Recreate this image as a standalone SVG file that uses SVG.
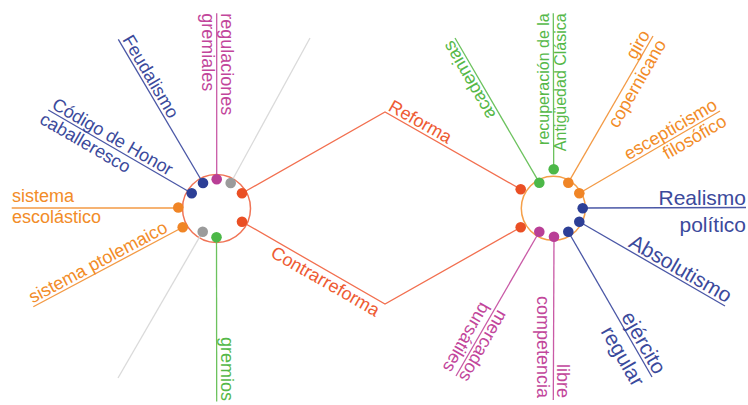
<svg xmlns="http://www.w3.org/2000/svg" width="748" height="405" viewBox="0 0 748 405">
<style>
.t{font-family:"Liberation Sans",Arial,sans-serif;font-size:18px}
.big{font-size:21px}
.sm{font-size:16px}
.e{text-anchor:end}
.cb{fill:#3b4a9c}.cm{fill:#c2469b}.cg{fill:#55b848}.co{fill:#f28c28}.cr{fill:#ee5b33}
.lb{stroke:#4a57a6}.lm{stroke:#c95aa6}.lg{stroke:#6cc25e}.lo{stroke:#f39a45}.lr{stroke:#f26f4f}.lgr{stroke:#dadada;stroke-width:0.8}
#connectors line,#connectors polyline{fill:none;stroke-width:1.3}
.db{fill:#2d3f96}.dm{fill:#b93f96}.dg{fill:#4cb848}.do{fill:#f08526}.dr{fill:#ea4f24}.dgr{fill:#9b9b9b}
</style>
<rect width="748" height="405" fill="#ffffff"/>
<g id="hub-left">
<circle cx="216.5" cy="208.5" r="34" fill="#ffffff" stroke="#f07456" stroke-width="1.5"/>
</g>
<g id="hub-right">
<circle cx="553.3" cy="208.3" r="32" fill="#ffffff" stroke="#f5a04a" stroke-width="1.5"/>
</g>
<g id="connectors">
<line class="lb" x1="203" y1="183" x2="118.3" y2="39.3"/>
<line class="lb" x1="191.7" y1="193.3" x2="48.3" y2="110"/>
<line class="lm" x1="216.7" y1="179.3" x2="216.7" y2="13.3"/>
<line class="lgr" x1="230.7" y1="183" x2="310" y2="38"/>
<polyline class="lr" points="242,193.3 385,112 520.7,189.3"/>
<polyline class="lr" points="242,221.7 385,304 520.7,227.3"/>
<line class="lg" x1="216.5" y1="237.3" x2="216.7" y2="401.5"/>
<line class="lgr" x1="202.7" y1="231.7" x2="118" y2="378"/>
<line class="lo" x1="182.7" y1="227.3" x2="33.3" y2="306.7"/>
<line class="lo" x1="178.3" y1="208" x2="11.7" y2="208"/>
<line class="lg" x1="539.3" y1="182.7" x2="455" y2="38"/>
<line class="lg" x1="553.7" y1="169.3" x2="553.3" y2="13.3"/>
<line class="lo" x1="568.3" y1="182.7" x2="653" y2="36"/>
<line class="lo" x1="579.3" y1="193.3" x2="720" y2="111"/>
<line class="lb" x1="582.7" y1="208" x2="746" y2="207.5"/>
<line class="lb" x1="579.3" y1="221.7" x2="725" y2="306"/>
<line class="lb" x1="568.3" y1="231.7" x2="652" y2="377"/>
<line class="lm" x1="554" y1="236.7" x2="553.3" y2="400"/>
<line class="lm" x1="539.3" y1="231.7" x2="456" y2="376"/>
</g>
<g id="dots-left">
<circle class="db" cx="203" cy="183" r="5.3"/>
<circle class="dm" cx="216.7" cy="179.3" r="5.3"/>
<circle class="dgr" cx="230.7" cy="183" r="5.3"/>
<circle class="dr" cx="242" cy="193.3" r="5.3"/>
<circle class="db" cx="191.7" cy="193.3" r="5.3"/>
<circle class="do" cx="178.3" cy="207.5" r="5.3"/>
<circle class="do" cx="182.7" cy="227.3" r="5.3"/>
<circle class="dgr" cx="202.7" cy="231.7" r="5.3"/>
<circle class="dg" cx="216.5" cy="237.3" r="5.3"/>
<circle class="dr" cx="242" cy="221.7" r="5.3"/>
</g>
<g id="dots-right">
<circle class="dr" cx="520.7" cy="189.3" r="5.3"/>
<circle class="dg" cx="539.3" cy="182.7" r="5.3"/>
<circle class="dg" cx="553.7" cy="169.3" r="5.3"/>
<circle class="do" cx="568.3" cy="182.7" r="5.3"/>
<circle class="do" cx="579.3" cy="193.3" r="5.3"/>
<circle class="db" cx="582.7" cy="208.3" r="5.3"/>
<circle class="db" cx="579.3" cy="221.7" r="5.3"/>
<circle class="db" cx="568.3" cy="231.7" r="5.3"/>
<circle class="dm" cx="554" cy="236.7" r="5.3"/>
<circle class="dm" cx="539.3" cy="231.7" r="5.3"/>
<circle class="dr" cx="520.7" cy="227.3" r="5.3"/>
</g>
<g id="feudalismo" transform="translate(118.3,39.3) rotate(59.5)"><text class="t cb" x="2" y="-3">Feudalismo</text></g>
<g id="codigo" transform="translate(48.3,110) rotate(30)"><text class="t cb" x="1" y="-3">Código de Honor</text><text class="t cb" x="-2" y="16">caballeresco</text></g>
<g id="regulaciones" transform="translate(216.7,13.3) rotate(90)"><text class="t cm" x="0" y="-4">regulaciones</text><text class="t cm" x="0" y="15">gremiales</text></g>
<g id="escolastico" transform="translate(12,208)"><text class="t co" x="0" y="-6">sistema</text><text class="t co" x="0" y="15">escolástico</text></g>
<g id="ptolemaico" transform="translate(33.3,306.7) rotate(-28)"><text class="t co" x="1" y="-3">sistema ptolemaico</text></g>
<g id="gremios" transform="translate(216.7,401) rotate(90)"><text class="t cg e" x="0" y="-4">gremios</text></g>
<g id="reforma" transform="translate(385,112) rotate(29.5)"><text class="t cr" x="1" y="-3">Reforma</text></g>
<g id="contrarreforma" transform="translate(385,304) rotate(29.8)"><text class="t cr e" x="-2" y="16">Contrarreforma</text></g>
<g id="academias" transform="translate(455,38) rotate(-120)"><text class="t cg e" x="0" y="-3">academias</text></g>
<g id="recuperacion" transform="translate(553.3,13.3) rotate(-90)"><text class="t sm cg e" x="0" y="-4">recuperación de la</text><text class="t sm cg e" x="0" y="13">Antigüedad Clásica</text></g>
<g id="giro" transform="translate(653,36) rotate(-60)"><text class="t co e" x="0" y="-3">giro</text><text class="t co e" x="0" y="16">copernicano</text></g>
<g id="escepticismo" transform="translate(720,111) rotate(-30)"><text class="t co e" x="0" y="-3">escepticismo</text><text class="t co e" x="0" y="16">filosófico</text></g>
<g id="realismo" transform="translate(746,207.5)"><text class="t big cb e" x="0" y="-2.5">Realismo</text><text class="t big cb e" x="0" y="24.5">político</text></g>
<g id="absolutismo" transform="translate(725,306) rotate(30)"><text class="t big cb e" x="0" y="-3">Absolutismo</text></g>
<g id="ejercito" transform="translate(652,377) rotate(60)"><text class="t big cb e" x="0" y="-3">ejército</text><text class="t big cb e" x="0" y="22">regular</text></g>
<g id="libre" transform="translate(553.3,398) rotate(90)"><text class="t cm e" x="0" y="-4">libre</text><text class="t cm e" x="0" y="16">competencia</text></g>
<g id="mercados" transform="translate(456,376) rotate(120)"><text class="t cm e" x="0" y="-3">mercados</text><text class="t cm e" x="0" y="16">bursátiles</text></g>
</svg>
